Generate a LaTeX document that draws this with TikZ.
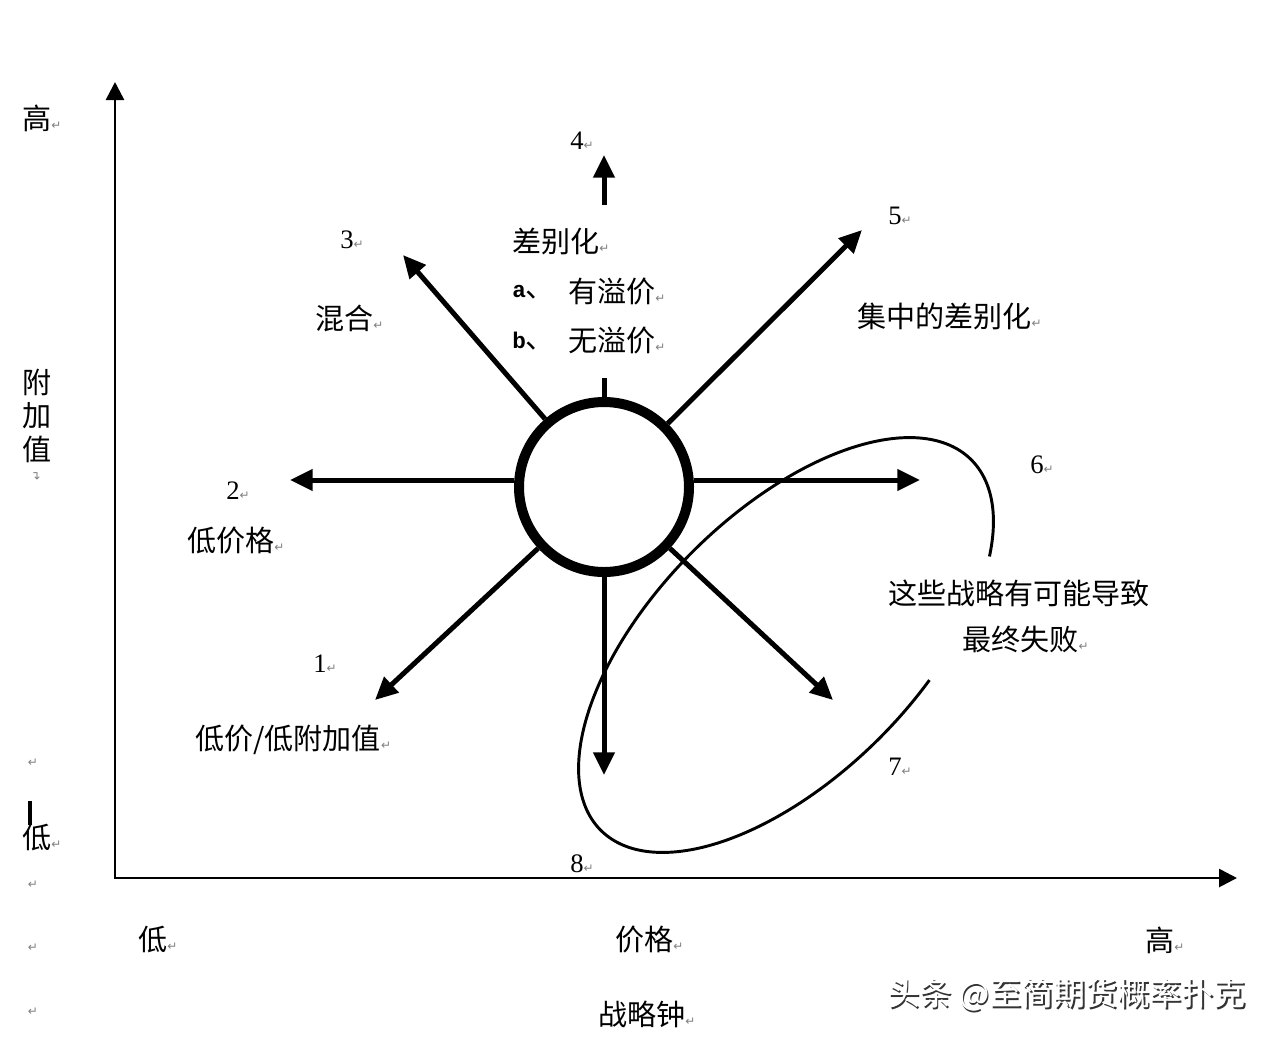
\documentclass[tikz,border=0pt]{standalone}
\usepackage{fontspec}
\setmainfont{Noto Sans CJK SC}
\newfontfamily\numfont{Liberation Serif}
\newfontfamily\monofnt{Liberation Mono}
\newfontfamily\symfnt{DejaVu Sans}
\usetikzlibrary{arrows.meta}
\newcommand{\rmk}{{\symfnt\fontsize{9pt}{9pt}\selectfont\textcolor{gray}{↵}}}
\begin{document}
\begin{tikzpicture}[x=0.75pt,y=-0.75pt,
  txt/.style={inner sep=0pt, anchor=west, font=\fontsize{21.8pt}{26pt}\selectfont},
  ctxt/.style={inner sep=0pt, anchor=center, font=\fontsize{21.8pt}{26pt}\selectfont},
  num/.style={inner sep=0pt, anchor=west, font=\numfont\fontsize{20pt}{24pt}\selectfont},
  retmark/.style={inner sep=0pt, anchor=center},
  axis/.style={line width=2pt, line join=miter, {Triangle[length=13.5pt,width=13.5pt]}-{Triangle[length=13.5pt,width=13.5pt]}},
  spoke/.style={line width=3.75pt, -{Triangle[length=17pt,width=15.5pt]}},
  plain/.style={line width=3.75pt},
  loop/.style={line width=2.2pt}]
\useasboundingbox (0,0) rectangle (1280,1040);
\fill[white] (0,0) rectangle (1280,1040);

% axes
\coordinate (O) at (115,878);
\coordinate (ytip) at (115,82);
\coordinate (xtip) at (1237,878);
\draw[axis] (ytip) -- (O) -- (xtip);

% hub
\node[circle, draw, line width=7.5pt, minimum size=127.5pt, inner sep=0pt] (hub) at (604,487) {};

% tips
\coordinate (t1) at (375,700);
\coordinate (t2) at (290,480);
\coordinate (t3) at (403,255);
\coordinate (t5) at (862,230);
\coordinate (t6) at (920,480);
\coordinate (t7) at (833,700);
\coordinate (t8) at (604,775);
\coordinate (stub) at (604,378);
\coordinate (a4s) at (604,205);
\coordinate (t4) at (604,155);

\draw[spoke] (hub) -- (t1);
\draw[spoke] (hub.west |- t2) -- (t2);
\draw[spoke] (hub) -- (t3);
\draw[spoke] (hub) -- (t5);
\draw[spoke] (hub.east |- t6) -- (t6);
\draw[spoke] (hub) -- (t7);
\draw[spoke] (hub) -- (t8);
\draw[plain] (hub.north) -- (stub);
\draw[spoke] (a4s) -- (t4);

% loop curve (open tilted ellipse)
\draw[loop] plot[domain=73:398, samples=120, smooth]
  ({786 + 0.7071*(262*cos(\x) + 132*sin(\x))}, {645 + 0.7071*(-262*cos(\x) + 132*sin(\x))});

% left axis labels
\node[txt] (hiy) at (22,118) {高\rmk};
\node[ctxt] (v1) at (37,382) {附};
\node[ctxt] (v2) at (37,416) {加};
\node[ctxt] (v3) at (37,449) {值};
\node[retmark, rotate=90] (v4) at (37,475) {\rmk};
\node[retmark] (m1) at (33,763) {\rmk};
\draw[line width=3pt] (30,801) -- (30,825);
\node[txt] (loy) at (22,838) {低\rmk};
\node[retmark] (m2) at (33,885) {\rmk};
\node[retmark] (m3) at (33,948) {\rmk};
\node[retmark] (m4) at (33,1012) {\rmk};

% bottom axis labels
\node[txt] (lox) at (138,940) {低\rmk};
\node[txt] (price) at (615,940) {价格\rmk};
\node[txt] (hix) at (1145,940) {高\rmk};
\node[txt] (title) at (598,1014) {战略钟\rmk};

% numbers
\node[num] (n1) at (313,664) {1\rmk};
\node[num] (n2) at (226,491) {2\rmk};
\node[num] (n3) at (340,240) {3\rmk};
\node[num] (n4) at (570,141) {4\rmk};
\node[num] (n5) at (888,216) {5\rmk};
\node[num] (n6) at (1030,465) {6\rmk};
\node[num] (n7) at (888,767) {7\rmk};
\node[num] (n8) at (570,864) {8\rmk};

% strategy labels
\node[txt] (diff) at (512,241) {差别化\rmk};
\node[inner sep=0pt, anchor=west] (la) at (512,292) {{\monofnt\bfseries\fontsize{17pt}{20pt}\selectfont a}{\fontsize{21.8pt}{26pt}\selectfont 、}};
\node[txt] (pa) at (568,292) {有溢价\rmk};
\node[inner sep=0pt, anchor=west] (lb) at (512,341) {{\monofnt\bfseries\fontsize{17pt}{20pt}\selectfont b}{\fontsize{21.8pt}{26pt}\selectfont 、}};
\node[txt] (pb) at (568,341) {无溢价\rmk};
\node[txt] (hyb) at (315,318) {混合\rmk};
\node[txt] (focus) at (857,316) {集中的差别化\rmk};
\node[txt] (lowp) at (187,541) {低价格\rmk};
\node[txt] (lowpv) at (195,740) {低价/低附加值\rmk};
\node[txt] (fail1) at (888,593) {这些战略有可能导致};
\node[txt] (fail2) at (962,639) {最终失败\rmk};

% watermark
\node[inner sep=0pt, anchor=west, text=black!80, font=\fontsize{24pt}{28pt}\selectfont] (wms) at (889.5,996.5) {头条 @至简期货概率扑克};
\node[inner sep=0pt, anchor=west, text=white, font=\fontsize{24pt}{28pt}\selectfont] (wm) at (888,995) {头条 @至简期货概率扑克};
\end{tikzpicture}
\end{document}
